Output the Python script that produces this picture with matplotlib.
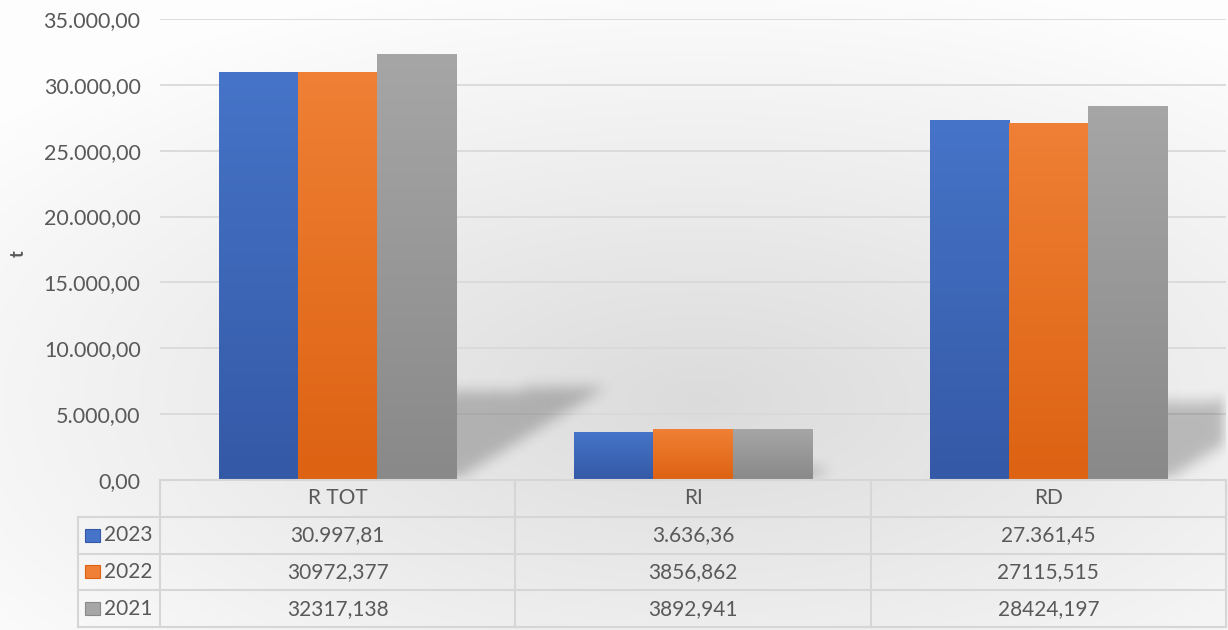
import matplotlib
matplotlib.use("Agg")
import matplotlib.pyplot as plt
import numpy as np
from matplotlib.patches import Rectangle
from matplotlib.lines import Line2D

plt.rcParams['font.family'] = ['Lato', 'DejaVu Sans']

categories = ['R TOT', 'RI', 'RD']
years = ['2023', '2022', '2021']
v2023 = [30997.81, 3636.36, 27361.45]
v2022 = [30972.377, 3856.862, 27115.515]
v2021 = [32317.138, 3892.941, 28424.197]
# table labels as shown in the source sheet
lab2023 = ['30.997,81', '3.636,36', '27.361,45']
lab2022 = ['30972,377', '3856,862', '27115,515']
lab2021 = ['32317,138', '3892,941', '28424,197']
yticks = [0, 5000, 10000, 15000, 20000, 25000, 30000, 35000]

series = [v2023, v2022, v2021]
labels = [lab2023, lab2022, lab2021]
top_cols = ['#4674c8', '#ef8035', '#a6a6a6']
bot_cols = ['#3459a6', '#dd6212', '#898989']
txt = '#595959'
W, H = 1228, 630

fig = plt.figure(figsize=(W / 100, H / 100), dpi=100)

# background gradient
bg = fig.add_axes([0, 0, 1, 1], zorder=0)
yy, xx = np.mgrid[0:H, 0:W]
d = np.sqrt(((xx - 700) / 900.0) ** 2 + ((yy - 400) / 420.0) ** 2)
g = np.clip(0.86 + 0.13 * d, 0.86, 0.995)
bg.imshow(np.dstack([g, g, g]), extent=[0, W, H, 0], aspect='auto')
bg.set_xlim(0, W)
bg.set_ylim(H, 0)
bg.axis('off')

ax = fig.add_axes([160 / W, 150 / H, 1066 / W, 461 / H], zorder=1)
ax.patch.set_alpha(0)
ax.set_xlim(-0.5, 2.5)
ax.set_ylim(0, 35000)
ax.set_yticks(yticks)
ax.set_yticklabels([f'{v:,.2f}'.replace(',', 'X').replace('.', ',').replace('X', '.') for v in yticks])
ax.tick_params(axis='y', length=0, labelsize=15.5, labelcolor=txt, pad=14)
ax.set_xticks([])
for s in ax.spines.values():
    s.set_visible(False)
for v in yticks[1:]:
    ax.axhline(v, color='#d9d9d9', lw=1.3, zorder=1)

bw = 0.2225
x = np.arange(len(categories))

# soft perspective shadow behind each bar, rasterised and blurred
nx_, ny_ = 1066, 461
gx = np.linspace(-0.5, 2.5, nx_)
gy = np.linspace(0, 35000, ny_)
GX, GY = np.meshgrid(gx, gy)
mask = np.zeros_like(GX)
skew = 6.0e-5
for j, s in enumerate(series):
    for i in range(len(categories)):
        x0 = x[i] + (j - 1.5) * bw
        hs = s[i] * 0.218
        inside = (GY <= hs) & (GX >= x0 + skew * GY) & (GX <= x0 + bw + skew * GY)
        mask[inside] = 1.0

def box_blur(a, r):
    k = np.ones(2 * r + 1) / (2 * r + 1)
    a = np.apply_along_axis(lambda m: np.convolve(m, k, mode='same'), 0, a)
    a = np.apply_along_axis(lambda m: np.convolve(m, k, mode='same'), 1, a)
    return a

for _ in range(3):
    mask = box_blur(mask, 6)
sh = np.zeros((ny_, nx_, 4))
sh[..., 3] = mask * 0.22
ax.imshow(sh, extent=[-0.5, 2.5, 0, 35000], origin='lower', aspect='auto', zorder=2)

grad = np.linspace(0, 1, 256).reshape(-1, 1)
for j, s in enumerate(series):
    c0 = np.array(matplotlib.colors.to_rgb(bot_cols[j]))
    c1 = np.array(matplotlib.colors.to_rgb(top_cols[j]))
    img = c0[None, None, :] * (1 - grad[:, :, None]) + c1[None, None, :] * grad[:, :, None]
    for i in range(len(categories)):
        x0 = x[i] + (j - 1.5) * bw
        bars = ax.bar(x0, s[i], width=bw, align='edge', color='none', lw=0, zorder=3)
        r = bars[0]
        im = ax.imshow(img, extent=[x0, x0 + bw, 0, s[i]], origin='lower',
                       aspect='auto', zorder=3)
        im.set_clip_path(r)
ax.set_xlim(-0.5, 2.5)
ax.set_ylim(0, 35000)

fig.text(18 / W, 1 - 254 / H, 't', rotation=90, ha='center', va='center',
         fontsize=13, fontweight='bold', color=txt)

# data table
tb = fig.add_axes([160 / W, 3 / H, 1066 / W, 147 / H], zorder=2)
tb.set_xlim(-0.5, 2.5)
tb.set_ylim(4, 0)
tb.axis('off')
lc = '#d6d6d6'
tb.add_line(Line2D([-0.5, 2.5], [0, 0], color=lc, lw=1.5, clip_on=False))
for r in range(1, 5):
    tb.add_line(Line2D([-0.73, 2.5], [r, r], color=lc, lw=1.5, clip_on=False))
for c in [-0.5, 0.5, 1.5, 2.5]:
    tb.add_line(Line2D([c, c], [0, 4], color=lc, lw=1.5, clip_on=False))
tb.add_line(Line2D([-0.73, -0.73], [1, 4], color=lc, lw=1.5, clip_on=False))

for i, c in enumerate(categories):
    tb.text(x[i], 0.5, c, ha='center', va='center', fontsize=15, color=txt)
for j, labs in enumerate(labels):
    for i, l in enumerate(labs):
        tb.text(x[i], j + 1.5, l, ha='center', va='center', fontsize=15, color=txt)
    tb.add_patch(Rectangle((-0.71, j + 1.32), 0.042, 0.36, facecolor=top_cols[j],
                           edgecolor=bot_cols[j], lw=0.8, clip_on=False))
    tb.text(-0.658, j + 1.5, years[j], ha='left', va='center', fontsize=15, color=txt,
            clip_on=False)

fig.savefig('out.png', dpi=100)
